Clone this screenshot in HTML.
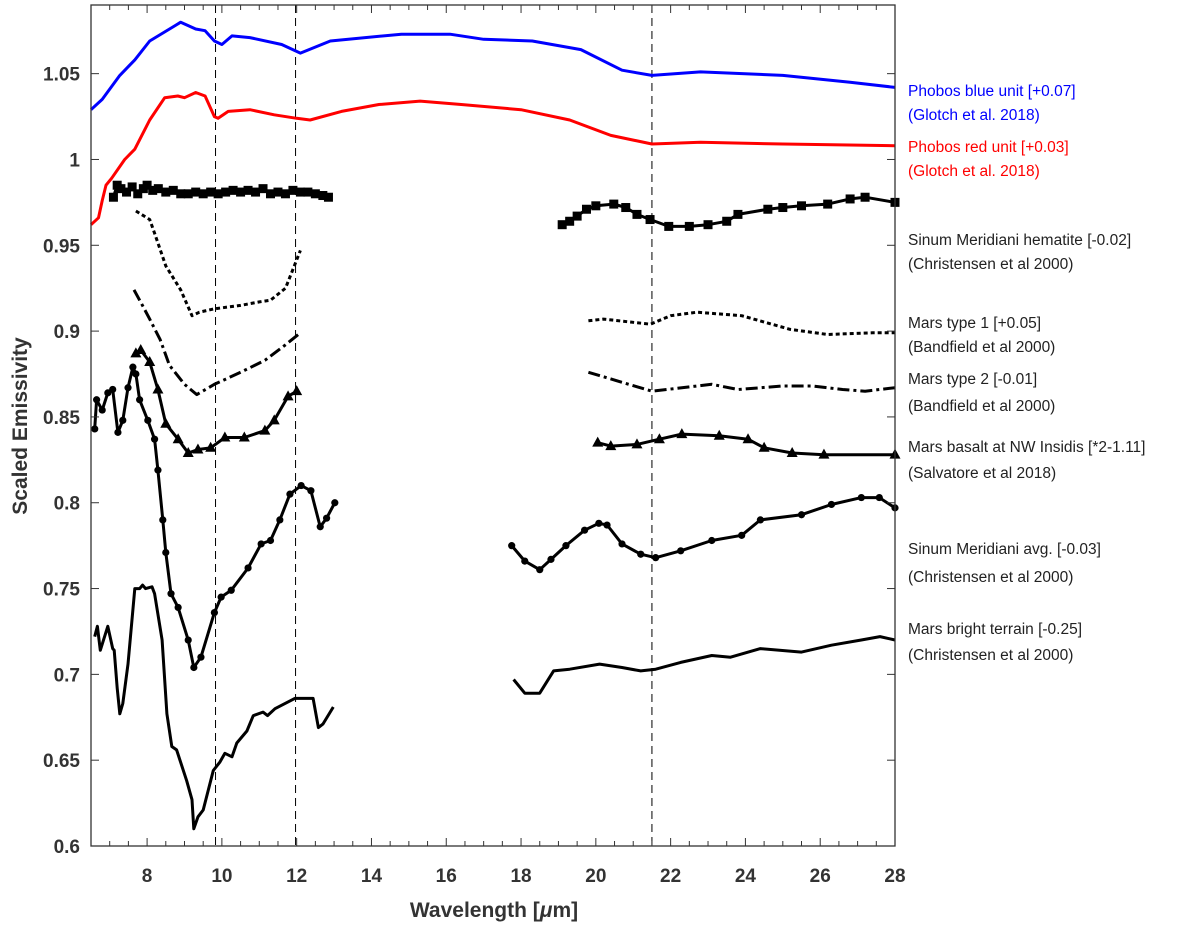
<!DOCTYPE html>
<html><head><meta charset="utf-8"><style>
html,body{margin:0;padding:0;background:#fff;}
svg{display:block;font-family:"Liberation Sans",Arial,sans-serif;}
.tk{font-size:19px;font-weight:bold;fill:#333;}
.lg{font-size:15.5px;fill:#222;}
</style></head><body>
<svg id="chart" width="1200" height="927" viewBox="0 0 1200 927" xmlns="http://www.w3.org/2000/svg">
<g id="plot"></g>
<g id="axes"></g>
<text class="tk" font-size="21" transform="translate(27,426) rotate(-90)" text-anchor="middle" style="font-size:21px">Scaled Emissivity</text>
<text class="tk" x="494" y="917" text-anchor="middle" style="font-size:21px">Wavelength [<tspan font-style="italic">μ</tspan>m]</text>
<g>
<text class="lg" x="908" y="96" fill="#0000ff" style="fill:#0000ff">Phobos blue unit [+0.07]</text>
<text class="lg" x="908" y="120" style="fill:#0000ff">(Glotch et al. 2018)</text>
<text class="lg" x="908" y="152" style="fill:#ff0000">Phobos red unit [+0.03]</text>
<text class="lg" x="908" y="176" style="fill:#ff0000">(Glotch et al. 2018)</text>
<text class="lg" x="908" y="245">Sinum Meridiani hematite [-0.02]</text>
<text class="lg" x="908" y="269">(Christensen et al 2000)</text>
<text class="lg" x="908" y="328">Mars type 1 [+0.05]</text>
<text class="lg" x="908" y="352">(Bandfield et al 2000)</text>
<text class="lg" x="908" y="384">Mars type 2 [-0.01]</text>
<text class="lg" x="908" y="411">(Bandfield et al 2000)</text>
<text class="lg" x="908" y="452">Mars basalt at NW Insidis [*2-1.11]</text>
<text class="lg" x="908" y="478">(Salvatore et al 2018)</text>
<text class="lg" x="908" y="554">Sinum Meridiani avg. [-0.03]</text>
<text class="lg" x="908" y="582">(Christensen et al 2000)</text>
<text class="lg" x="908" y="634">Mars bright terrain [-0.25]</text>
<text class="lg" x="908" y="660">(Christensen et al 2000)</text>
</g>
</svg>
<script>
const xTicks=[8,10,12,14,16,18,20,22,24,26,28];
const yTicks=[0.6,0.65,0.7,0.75,0.8,0.85,0.9,0.95,1,1.05];
const yTickLabels=["0.6","0.65","0.7","0.75","0.8","0.85","0.9","0.95","1","1.05"];
const refLines=[9.83,11.97,21.5];
const blueX=[6.5,6.8,7.27,7.67,8.07,8.75,8.9,9.3,9.55,9.8,10.0,10.27,10.75,11.6,12.1,12.9,14.8,16.1,17,18.3,19.6,20.7,21.5,22.8,25,26.8,28];
const blueY=[1.029,1.035,1.049,1.058,1.069,1.078,1.080,1.076,1.075,1.069,1.067,1.072,1.071,1.067,1.062,1.069,1.073,1.073,1.070,1.069,1.064,1.052,1.049,1.051,1.049,1.045,1.042];
const redX=[6.5,6.7,6.8,6.9,7.05,7.4,7.67,8.07,8.47,8.82,9.0,9.3,9.55,9.8,9.9,10.17,10.75,11.4,12.0,12.36,13.2,14.2,15.3,16.4,18,19.3,20.4,21.5,22.8,25,28];
const redY=[0.962,0.966,0.976,0.985,0.989,1.0,1.006,1.023,1.036,1.037,1.036,1.039,1.037,1.025,1.024,1.028,1.029,1.026,1.024,1.023,1.028,1.032,1.034,1.032,1.029,1.023,1.014,1.009,1.010,1.009,1.008];
const hemX1=[7.1,7.2,7.3,7.45,7.6,7.75,7.9,8.0,8.15,8.3,8.5,8.7,8.9,9.1,9.3,9.5,9.7,9.9,10.1,10.3,10.5,10.7,10.9,11.1,11.3,11.5,11.7,11.9,12.1,12.3,12.5,12.7,12.85];
const hemY1=[0.978,0.985,0.983,0.981,0.984,0.980,0.983,0.985,0.982,0.983,0.981,0.982,0.980,0.980,0.981,0.980,0.981,0.980,0.981,0.982,0.981,0.982,0.981,0.983,0.980,0.981,0.980,0.982,0.981,0.981,0.980,0.979,0.978];
const hemX2=[19.1,19.3,19.5,19.75,20.0,20.48,20.8,21.1,21.45,21.95,22.5,23.0,23.5,23.8,24.6,25.0,25.5,26.2,26.8,27.2,28];
const hemY2=[0.962,0.964,0.967,0.971,0.973,0.974,0.972,0.968,0.965,0.961,0.961,0.962,0.964,0.968,0.971,0.972,0.973,0.974,0.977,0.978,0.975];
const t1X1=[7.7,8.07,8.2,8.5,8.9,9.2,9.4,9.8,10.5,11.0,11.3,11.7,12.1];
const t1Y1=[0.970,0.965,0.957,0.938,0.924,0.909,0.911,0.913,0.915,0.917,0.918,0.925,0.947];
const t1X2=[19.8,20.2,21.46,22.0,22.7,23.9,25.2,26.2,27.4,28];
const t1Y2=[0.906,0.907,0.904,0.909,0.911,0.909,0.901,0.898,0.899,0.899];
const t2X1=[7.65,7.85,8.07,8.35,8.6,9.0,9.33,9.8,10.5,11.15,11.7,12.1];
const t2Y1=[0.924,0.916,0.907,0.895,0.880,0.869,0.863,0.869,0.876,0.883,0.892,0.899];
const t2X2=[19.8,21.5,23.1,23.8,25,25.8,26.6,27.2,28];
const t2Y2=[0.876,0.865,0.869,0.866,0.868,0.868,0.866,0.865,0.867];
const basX1=[7.7,7.83,8.07,8.29,8.5,8.83,9.1,9.36,9.7,10.08,10.6,11.15,11.4,11.77,12.0];
const basY1=[0.887,0.889,0.882,0.866,0.846,0.837,0.829,0.831,0.832,0.838,0.838,0.842,0.848,0.862,0.865];
const basX2=[20.05,20.4,21.1,21.7,22.3,23.3,24.07,24.5,25.25,26.1,28];
const basY2=[0.835,0.833,0.834,0.837,0.840,0.839,0.837,0.832,0.829,0.828,0.828];
const avgX1=[6.6,6.65,6.8,6.95,7.08,7.22,7.35,7.49,7.62,7.7,7.8,8.02,8.2,8.29,8.42,8.5,8.64,8.83,9.1,9.25,9.44,9.8,9.98,10.25,10.7,11.05,11.3,11.55,11.82,12.12,12.38,12.63,12.8,13.02];
const avgY1=[0.843,0.860,0.854,0.864,0.866,0.841,0.848,0.867,0.879,0.875,0.860,0.848,0.837,0.819,0.790,0.771,0.747,0.739,0.720,0.704,0.710,0.736,0.745,0.749,0.762,0.776,0.778,0.790,0.805,0.810,0.807,0.786,0.791,0.800];
const avgX2=[17.75,18.1,18.5,18.8,19.2,19.7,20.08,20.3,20.7,21.2,21.6,22.27,23.1,23.9,24.4,25.5,26.3,27.1,27.58,28];
const avgY2=[0.775,0.766,0.761,0.767,0.775,0.784,0.788,0.787,0.776,0.770,0.768,0.772,0.778,0.781,0.790,0.793,0.799,0.803,0.803,0.797];
const briX1=[6.6,6.67,6.75,6.95,7.08,7.12,7.2,7.27,7.35,7.49,7.67,7.8,7.88,7.96,8.13,8.2,8.4,8.53,8.66,8.79,9.06,9.2,9.25,9.36,9.5,9.77,9.95,10.08,10.27,10.4,10.67,10.84,11.1,11.22,11.42,11.95,12.44,12.58,12.7,12.98];
const briY1=[0.722,0.728,0.714,0.728,0.715,0.714,0.692,0.677,0.683,0.706,0.750,0.750,0.752,0.750,0.751,0.747,0.720,0.677,0.658,0.656,0.638,0.627,0.610,0.617,0.621,0.644,0.649,0.654,0.652,0.660,0.667,0.676,0.678,0.676,0.680,0.686,0.686,0.669,0.671,0.681];
const briX2=[17.8,18.1,18.5,18.87,19.3,20.1,20.7,21.2,21.6,22.27,23.1,23.6,24.4,25.5,26.3,27.1,27.6,28];
const briY2=[0.697,0.689,0.689,0.702,0.703,0.706,0.704,0.702,0.703,0.707,0.711,0.710,0.715,0.713,0.717,0.720,0.722,0.720];

const L=91,R=895,T=5,B=846,XMIN=6.5,XMAX=28,YMIN=0.6,YMAX=1.09;
function sx(v){return L+(v-XMIN)/(XMAX-XMIN)*(R-L);}
function sy(v){return B-(v-YMIN)/(YMAX-YMIN)*(B-T);}
const NS="http://www.w3.org/2000/svg";
const plot=document.getElementById('plot'),axes=document.getElementById('axes');
function mk(tag,attrs,parent){const e=document.createElementNS(NS,tag);for(const k in attrs)e.setAttribute(k,attrs[k]);parent.appendChild(e);return e;}
function line(xs,ys,color,dash,name){
  const d=xs.map((x,i)=>(i?'L':'M')+sx(x).toFixed(1)+','+sy(ys[i]).toFixed(1)).join('');
  const p=mk('path',{d:d,fill:'none',stroke:color,'stroke-width':3,'stroke-linejoin':'round'},plot);
  if(dash)p.setAttribute('stroke-dasharray',dash);
  
  
}
function markers(xs,ys,shape,name){
  xs.forEach((x,i)=>{const cx=sx(x),cy=sy(ys[i]);let m;
    if(shape==='s')m=mk('rect',{x:cx-4.5,y:cy-4.5,width:9,height:9,fill:'#000'},plot);
    else if(shape==='c')m=mk('circle',{cx:cx,cy:cy,r:3.6,fill:'#000'},plot);
    else m=mk('path',{d:`M${cx},${cy-6}L${cx+5.5},${cy+4}L${cx-5.5},${cy+4}Z`,fill:'#000'},plot);
    
    
  });
}
// reference dashed lines
refLines.forEach(v=>{const l=mk('line',{x1:sx(v),x2:sx(v),y1:T,y2:B,stroke:'#000','stroke-width':1,'stroke-dasharray':'8,5'},plot);
  
  });
line(blueX,blueY,'#0000ff',null,'phobos-blue-line');
line(redX,redY,'#ff0000',null,'phobos-red-line');
line(hemX1,hemY1,'#000',null,'hematite-line');markers(hemX1,hemY1,'s','hematite-marker');
line(hemX2,hemY2,'#000',null,'hematite-line');markers(hemX2,hemY2,'s','hematite-marker');
line(t1X1,t1Y1,'#000','4,3','type1-line');line(t1X2,t1Y2,'#000','4,3','type1-line');
line(t2X1,t2Y1,'#000','12,4,3,4','type2-line');line(t2X2,t2Y2,'#000','12,4,3,4','type2-line');
line(basX1,basY1,'#000',null,'basalt-line');markers(basX1,basY1,'t','basalt-marker');
line(basX2,basY2,'#000',null,'basalt-line');markers(basX2,basY2,'t','basalt-marker');
line(avgX1,avgY1,'#000',null,'sinum-avg-line');markers(avgX1,avgY1,'c','sinum-avg-marker');
line(avgX2,avgY2,'#000',null,'sinum-avg-line');markers(avgX2,avgY2,'c','sinum-avg-marker');
line(briX1,briY1,'#000',null,'bright-terrain-line');line(briX2,briY2,'#000',null,'bright-terrain-line');
// frame
const fr=mk('rect',{x:L,y:T,width:R-L,height:B-T,fill:'none',stroke:'#333','stroke-width':1.3},axes);


for(let v=7;v<=28;v+=0.5){const x=sx(v),len=(v%2===0)?8:5;
  mk('line',{x1:x,x2:x,y1:B,y2:B-len,stroke:'#333'},axes);mk('line',{x1:x,x2:x,y1:T,y2:T+len,stroke:'#333'},axes);}
xTicks.forEach(v=>{const t=mk('text',{x:sx(v),y:882,'text-anchor':'middle',class:'tk'},axes);t.textContent=v;
  
  });
yTicks.forEach((v,i)=>{const y=sy(v);mk('line',{x1:L,x2:L+8,y1:y,y2:y,stroke:'#333'},axes);mk('line',{x1:R,x2:R-8,y1:y,y2:y,stroke:'#333'},axes);
  const t=mk('text',{x:80,y:y+7,'text-anchor':'end',class:'tk'},axes);t.textContent=yTickLabels[i];
  
  });
</script>
</body></html>
